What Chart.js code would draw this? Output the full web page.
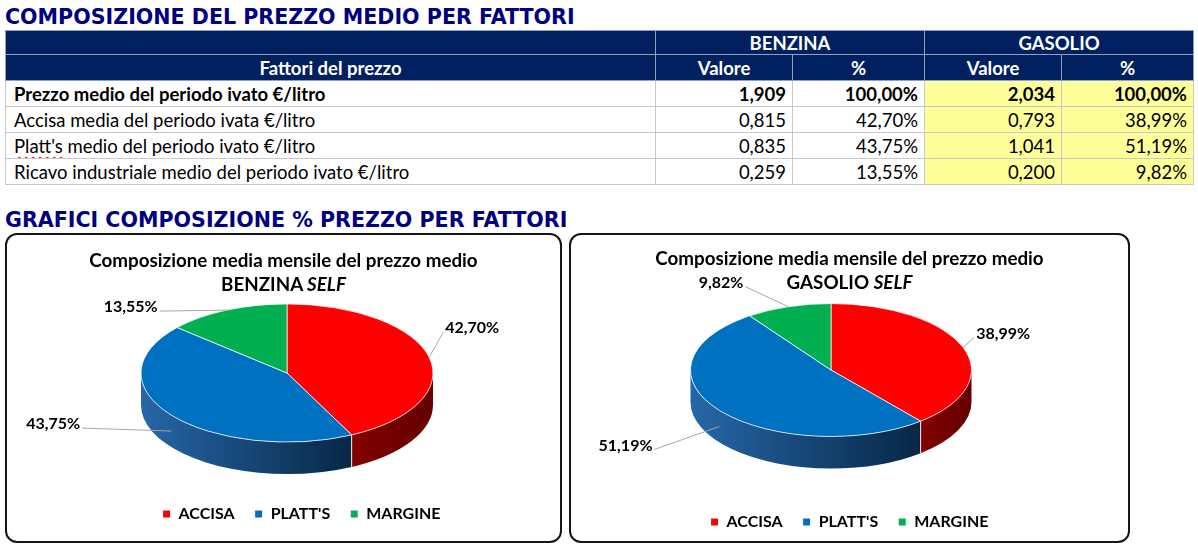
<!DOCTYPE html>
<html lang="it">
<head>
<meta charset="utf-8">
<script src="https://cdn.jsdelivr.net/npm/chart.js@4.4.1/dist/chart.umd.min.js"></script>
<style>
  html, body { margin: 0; padding: 0; background: #fff; }
  body { width: 1198px; height: 550px; position: relative; overflow: hidden; font-family: Lato, 'Open Sans', sans-serif; }
  .head { position: absolute; left: 5px; font-family: 'DejaVu Sans', Verdana, sans-serif; font-weight: bold;
          color: #000080; font-size: 20.6px; line-height: 22px; white-space: nowrap; }
  table { position: absolute; left: 5px; top: 30px; width: 1188px; border-collapse: collapse; table-layout: fixed; font-size: 18.5px; }
  td, th { padding: 0 6px; white-space: nowrap; overflow: hidden; line-height: 20px; }
  th { background: #002060; color: #fff; font-weight: bold; border: 1px solid #8ea2c0; text-align: center; }
  td { border: 1px solid #c8c8c8; color: #000; text-align: right; }
  td.lbl { text-align: left; padding-left: 8px; }
  tr.tot td { font-weight: bold; }
  td.g { background: #ffff99; }
  .spell { text-decoration: underline wavy #e00000; text-decoration-thickness: 1px; text-underline-offset: 3px; }
  .box { position: absolute; top: 233px; height: 306px; border: 2px solid #151515; border-radius: 12px; background: #fff; }
  .ttl { position: absolute; left: 0; right: 0; text-align: center; font-weight: bold; font-size: 18.8px; line-height: 24px; color: #000; }
  .cv { position: absolute; left: 0; top: 0; }
</style>
</head>
<body>
<div class="head" style="top:6px">COMPOSIZIONE DEL PREZZO MEDIO PER FATTORI</div>
<table id="tab">
  <colgroup><col style="width:650px"><col style="width:137px"><col style="width:132px"><col style="width:137px"><col style="width:132px"></colgroup>
  <thead>
    <tr style="height:24px"><th></th><th colspan="2">BENZINA</th><th colspan="2">GASOLIO</th></tr>
    <tr style="height:26px"><th>Fattori del prezzo</th><th>Valore</th><th>%</th><th>Valore</th><th>%</th></tr>
  </thead>
  <tbody id="rows"></tbody>
</table>
<div class="head" style="top:209px">GRAFICI COMPOSIZIONE % PREZZO PER FATTORI</div>

<div class="box" style="left:5px;width:553px">
  <div class="cv" style="width:553px;height:306px"><canvas id="benzina"></canvas></div>
  <div class="ttl" style="top:13px">Composizione media mensile del prezzo medio<br>BENZINA <i>SELF</i></div>
</div>
<div class="box" style="left:569px;width:557px">
  <div class="cv" style="width:557px;height:306px"><canvas id="gasolio"></canvas></div>
  <div class="ttl" style="top:11px">Composizione media mensile del prezzo medio<br>GASOLIO <i>SELF</i></div>
</div>

<script>
const FACTORS = [
  'Prezzo medio del periodo ivato €/litro',
  'Accisa media del periodo ivata €/litro',
  "Platt's medio del periodo ivato €/litro",
  'Ricavo industriale medio del periodo ivato €/litro',
];
const BENZINA_VAL = [1.909, 0.815, 0.835, 0.259];
const BENZINA_PCT = [100, 42.70, 43.75, 13.55];
const GASOLIO_VAL = [2.034, 0.793, 1.041, 0.200];
const GASOLIO_PCT = [100, 38.99, 51.19, 9.82];

// fette dei grafici: accisa, platt's, margine
const CATEGORIES = ['ACCISA', "PLATT'S", 'MARGINE'];
const BENZINA_SLICES = BENZINA_PCT.slice(1);
const GASOLIO_SLICES = GASOLIO_PCT.slice(1);

const TOP_COLORS  = ['#ff0000', '#0070c0', '#00b050'];
const SIDE_COLORS = [['#840000', '#640000'], ['#2667a8', '#072746'], ['#00813f', '#004d24']];
const FONT = 'Lato';

const fmtVal = v => v.toFixed(3).replace('.', ',');
const fmtPct = v => v.toFixed(2).replace('.', ',') + '%';

// tabella
const tbody = document.getElementById('rows');
FACTORS.forEach((name, i) => {
  const tr = document.createElement('tr');
  tr.style.height = '26px';
  if (i === 0) tr.className = 'tot';
  const label = name.startsWith("Platt's")
    ? name.replace("Platt's", '<span class="spell">Platt\'s</span>') : name;
  tr.innerHTML =
    '<td class="lbl">' + label + '</td>' +
    '<td>' + fmtVal(BENZINA_VAL[i]) + '</td>' +
    '<td>' + fmtPct(BENZINA_PCT[i]) + '</td>' +
    '<td class="g">' + fmtVal(GASOLIO_VAL[i]) + '</td>' +
    '<td class="g">' + fmtPct(GASOLIO_PCT[i]) + '</td>';
  tbody.appendChild(tr);
});

// torta "3D": schiaccia la faccia superiore e disegna il bordo laterale
const pie3d = {
  id: 'pie3d',
  beforeDatasetsDraw(chart, args, o) {
    const arcs = chart.getDatasetMeta(0).data;
    if (!arcs.length) return;
    const ctx = chart.ctx;
    const a = arcs[0].outerRadius, b = a * o.tilt;
    const { cx, cy, depth } = o;
    const fronts = [[0, Math.PI], [2 * Math.PI, 3 * Math.PI], [-2 * Math.PI, -Math.PI]];

    arcs.forEach((arc, i) => {
      fronts.forEach(([lo, hi]) => {
        const t0 = Math.max(arc.startAngle, lo), t1 = Math.min(arc.endAngle, hi);
        if (t1 <= t0) return;
        const x0 = cx + a * Math.cos(t0), x1 = cx + a * Math.cos(t1);
        const g = ctx.createLinearGradient(Math.min(x0, x1), 0, Math.max(x0, x1), 0);
        g.addColorStop(0, o.side[i][0]);
        g.addColorStop(1, o.side[i][1]);
        ctx.beginPath();
        ctx.ellipse(cx, cy, a, b, 0, t0, t1);
        ctx.ellipse(cx, cy + depth, a, b, 0, t1, t0, true);
        ctx.closePath();
        ctx.fillStyle = g;
        ctx.fill();
      });
    });
    // giunture bianche sul fronte
    ctx.strokeStyle = 'rgba(255,255,255,.9)';
    ctx.lineWidth = 1;
    arcs.forEach(arc => {
      const t = arc.endAngle;
      if (Math.sin(t) > 0.02) {
        const x = cx + a * Math.cos(t), y = cy + b * Math.sin(t);
        ctx.beginPath(); ctx.moveTo(x, y); ctx.lineTo(x, y + depth); ctx.stroke();
      }
    });

    ctx.save();
    ctx.translate(cx, cy);
    ctx.scale(1, o.tilt);
    ctx.translate(-arcs[0].x, -arcs[0].y);
  },
  afterDatasetsDraw(chart, args, o) {
    const arcs = chart.getDatasetMeta(0).data;
    if (!arcs.length) return;
    const ctx = chart.ctx;
    ctx.restore();
    const a = arcs[0].outerRadius, b = a * o.tilt;
    const { cx, cy, depth } = o;
    const values = chart.data.datasets[0].data;
    arcs.forEach((arc, i) => {
      const mid = (arc.startAngle + arc.endAngle) / 2;
      const sx = cx + a * Math.cos(mid);
      let sy = cy + b * Math.sin(mid);
      if (Math.sin(mid) > 0) sy += depth / 2;
      const [dx, dy] = o.leaders[i];
      const ex = sx + dx, ey = sy + dy;
      ctx.save();
      ctx.strokeStyle = '#a6a6a6';
      ctx.lineWidth = 1;
      ctx.beginPath(); ctx.moveTo(sx, sy); ctx.lineTo(ex, ey); ctx.stroke();
      ctx.fillStyle = '#000';
      ctx.font = 'bold 16px ' + FONT;
      ctx.textBaseline = 'middle';
      ctx.textAlign = dx >= 0 ? 'left' : 'right';
      ctx.fillText(fmtPct(values[i]), ex + (dx >= 0 ? 2 : -2), ey - 4);
      ctx.restore();
    });
  },
};

function makePie(id, values, radius, geom) {
  return new Chart(document.getElementById(id), {
    type: 'pie',
    data: {
      labels: CATEGORIES,
      datasets: [{
        data: values,
        backgroundColor: TOP_COLORS,
        borderColor: '#ffffff',
        borderWidth: 1,
        radius: radius,
        clip: false,
      }],
    },
    options: {
      responsive: true,
      maintainAspectRatio: false,
      animation: false,
      events: [],
      layout: { padding: geom.padding },
      plugins: {
        title: { display: false },
        tooltip: { enabled: false },
        legend: {
          position: 'bottom',
          labels: {
            color: '#000',
            boxWidth: 8,
            boxHeight: 8,
            padding: 20,
            font: { family: FONT, size: 16, weight: 'bold' },
          },
        },
        pie3d: {
          cx: geom.cx, cy: geom.cy, tilt: 0.473, depth: 32,
          side: SIDE_COLORS,
          leaders: geom.leaders,
        },
      },
    },
    plugins: [pie3d],
  });
}

makePie('benzina', BENZINA_SLICES, 146, {
  cx: 280, cy: 138,
  padding: { left: 36, bottom: 9 },
  leaders: [[14, -25], [-89, -3], [-67, 1]],
});
makePie('gasolio', GASOLIO_SLICES, 140.5, {
  cx: 260, cy: 135,
  padding: { bottom: 1 },
  leaders: [[11, -10], [-65, 23], [-43, -20]],
});
</script>
</body>
</html>
